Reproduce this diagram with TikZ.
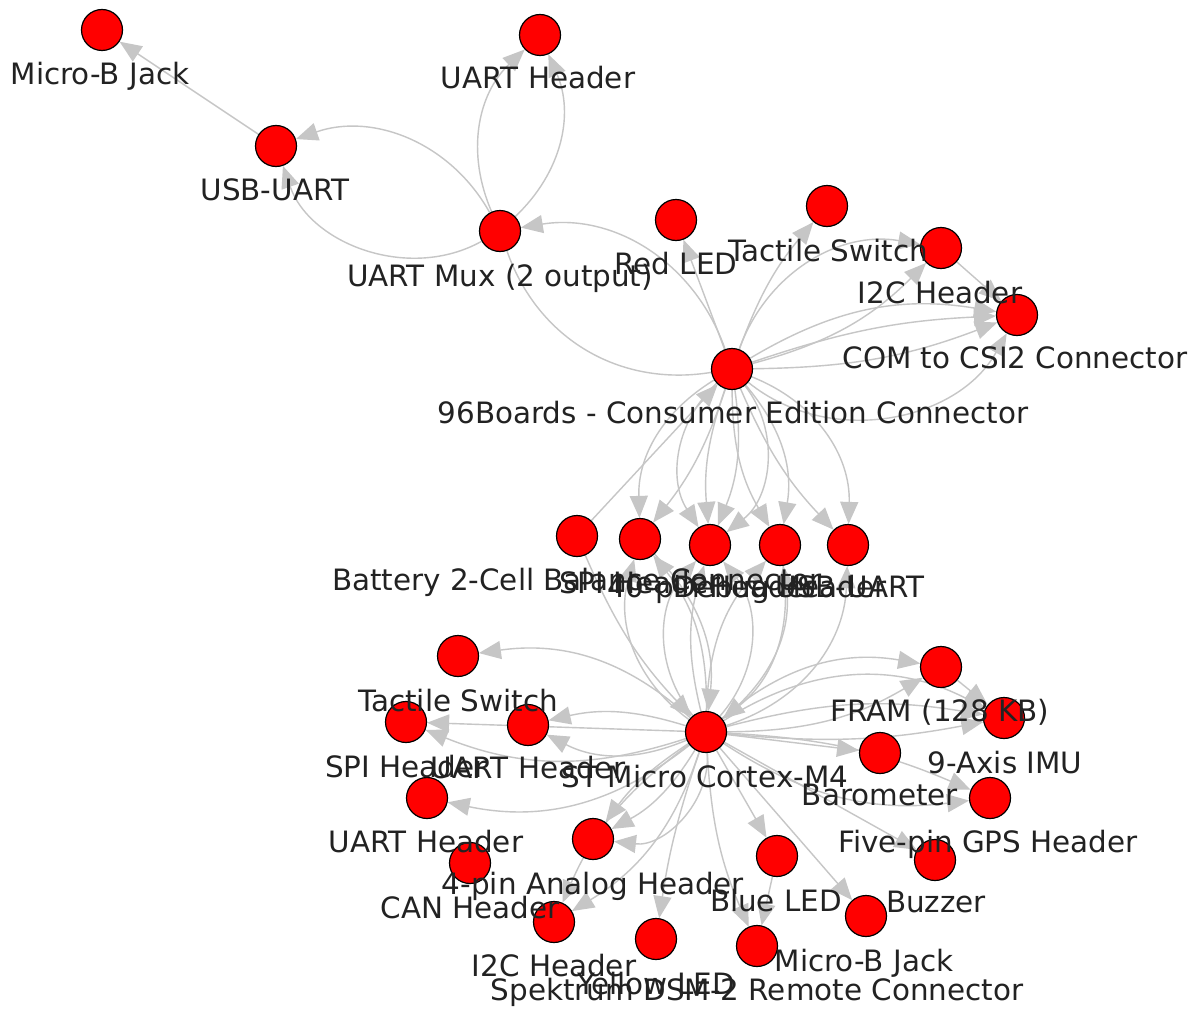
\documentclass[tikz,border=0pt]{standalone}
\usepackage{fontspec}
\setmainfont{DejaVu Sans}
\usetikzlibrary{arrows.meta}
\pgfdeclarelayer{bg}
\pgfsetlayers{bg,main}
\definecolor{eg}{HTML}{C6C6C6}
\definecolor{txt}{HTML}{222222}
\begin{document}
\begin{tikzpicture}[x=0.5pt,y=-0.5pt,
  vtx/.style={circle,fill=red,draw=black,line width=0.6pt,minimum size=20.5pt,inner sep=0pt},
  lbl/.style={anchor=base,inner sep=0pt,text=txt,font=\fontsize{14.7pt}{17pt}\selectfont},
  e/.style={draw=eg,line width=0.7pt,-{Triangle[length=11pt,width=9pt]}},
  ep/.style={draw=eg,line width=0.7pt}]
\useasboundingbox (0,0) rectangle (1197,1011);
% vertices
\node[vtx] (A) at (102,30) {};
\node[vtx] (B) at (540,35) {};
\node[vtx] (C) at (276,146) {};
\node[vtx] (D) at (500,231) {};
\node[vtx] (E) at (676,220) {};
\node[vtx] (F) at (827,206) {};
\node[vtx] (G) at (941,248) {};
\node[vtx] (H) at (1017,315) {};
\node[vtx] (I) at (732,369) {};
\node[vtx] (J) at (577,536) {};
\node[vtx] (K) at (640,539) {};
\node[vtx] (L) at (710,545) {};
\node[vtx] (M) at (780,545) {};
\node[vtx] (N) at (848,545) {};
\node[vtx] (O) at (706,732) {};
\node[vtx] (P) at (458,656) {};
\node[vtx] (Q) at (406,722) {};
\node[vtx] (R) at (528,725) {};
\node[vtx] (S) at (427,798) {};
\node[vtx] (T) at (470,863) {};
\node[vtx] (U) at (593,839) {};
\node[vtx] (V) at (554,922) {};
\node[vtx] (W) at (656,939) {};
\node[vtx] (X) at (757,946) {};
\node[vtx] (Y) at (777,856) {};
\node[vtx] (Z) at (866,916) {};
\node[vtx] (AA) at (935,860) {};
\node[vtx] (AB) at (990,798) {};
\node[vtx] (AC) at (941,667) {};
\node[vtx] (AD) at (1004,718) {};
\node[vtx] (AE) at (880,753) {};
% labels
\node[lbl] (tA) at (100,84) {Micro-B Jack};
\node[lbl] (tB) at (538,89) {UART Header};
\node[lbl] (tC) at (275,200) {USB-UART};
\node[lbl] (tD) at (500,286) {UART Mux (2 output)};
\node[lbl] (tE) at (676,274) {Red LED};
\node[lbl] (tF) at (828,261) {Tactile Switch};
\node[lbl] (tG) at (940,303) {I2C Header};
\node[lbl] (tH) at (1015,368) {COM to CSI2 Connector};
\node[lbl] (tI) at (733,423) {96Boards - Consumer Edition Connector};
\node[lbl] (tJ) at (577,590) {Battery 2-Cell Balance Connector};
\node[lbl] (tK) at (640,593) {SPI Header};
\node[lbl] (tL) at (712,597) {40-pin Header};
\node[lbl] (tM) at (780,597) {Debug Header};
\node[lbl] (tN) at (850,597) {USB-UART};
\node[lbl] (tO) at (705,787) {ST Micro Cortex-M4};
\node[lbl] (tP) at (458,711) {Tactile Switch};
\node[lbl] (tQ) at (406,777) {SPI Header};
\node[lbl] (tR) at (528,778) {UART Header};
\node[lbl] (tS) at (426,852) {UART Header};
\node[lbl] (tT) at (470,918) {CAN Header};
\node[lbl] (tU) at (593,894) {4-pin Analog Header};
\node[lbl] (tV) at (554,976) {I2C Header};
\node[lbl] (tW) at (656,994) {Yellow LED};
\node[lbl] (tX) at (757,1000) {Spektrum DSM-2 Remote Connector};
\node[lbl] (tY) at (776,911) {Blue LED};
\node[lbl] (tZ) at (864,971) {Micro-B Jack};
\node[lbl] (tAA) at (936,912) {Buzzer};
\node[lbl] (tAB) at (988,852) {Five-pin GPS Header};
\node[lbl] (tAC) at (940,721) {FRAM (128 KB)};
\node[lbl] (tAD) at (1005,773) {9-Axis IMU};
\node[lbl] (tAE) at (880,805) {Barometer};
\begin{pgfonlayer}{bg}
\fill[white] (0,0) rectangle (1197,1011);
% top cluster
\draw[e] (C) -- (A);
\draw[e] (D) to[bend right=40] (C);
\draw[e] (D) to[bend left=50] (C);
\draw[e] (D) to[bend left=35] (B);
\draw[e] (D) to[bend right=35] (B);
\draw[e] (I) to[bend right=40] (D);
\draw[ep] (D) to[bend right=40] (I);
\draw[e] (I) -- (E);
\draw[e] (I) to[bend left=10] (F);
\draw[e] (I) to[bend left=40] (G);
\draw[e] (I) to[bend right=15] (G);
\draw[e] (G) -- (H);
\draw[e] (I) to[bend left=20] (H);
\draw[e] (I) to[bend left=8] (H);
\draw[e] (I) to[bend right=10] (H);
\draw[e] (I) to[bend right=50] (H);
% 96Boards to middle row
\draw[e] (J) -- (I);
\draw[e] (I) to[bend right=30] (K);
\draw[e] (I) to[bend left=10] (K);
\draw[e] (I) to[bend right=40] (L);
\draw[e] (I) to[bend right=12] (L);
\draw[e] (I) to[bend left=15] (L);
\draw[e] (I) to[bend left=45] (L);
\draw[e] (I) to[bend left=25] (M);
\draw[e] (I) to[bend right=15] (M);
\draw[e] (I) to[bend left=35] (N);
\draw[e] (I) to[bend right=10] (N);
% middle row and Cortex-M4
\draw[e] (O) to[bend left=35] (K);
\draw[e] (O) to[bend right=20] (K);
\draw[e] (O) to[bend left=40] (L);
\draw[e] (O) to[bend right=40] (L);
\draw[e] (O) to[bend left=15] (L);
\draw[e] (O) to[bend right=30] (M);
\draw[e] (O) to[bend left=20] (M);
\draw[e] (O) to[bend right=35] (N);
\draw[e] (K) to[bend left=25] (O);
\draw[e] (M) to[bend left=30] (O);
\draw[e] (J) to[bend right=10] (O);
% Cortex-M4 to bottom cluster
\draw[e] (O) to[bend right=25] (P);
\draw[e] (O) to[bend right=15] (R);
\draw[e] (O) to[bend left=25] (R);
\draw[e] (O) -- (Q);
\draw[e] (O) to[bend left=20] (Q);
\draw[e] (O) to[bend left=25] (S);
\draw[e] (O) to[bend right=10] (U);
\draw[e] (O) to[bend left=15] (U);
\draw[e] (O) to[bend left=50] (U);
\draw[e] (O) to[bend right=15] (V);
\draw[e] (O) to[bend left=20] (V);
\draw[e] (O) to[bend right=5] (W);
\draw[e] (O) to[bend right=10] (X);
\draw[e] (Y) -- (X);
\draw[e] (O) -- (Y);
\draw[e] (O) -- (Z);
\draw[e] (O) -- (AA);
\draw[e] (O) to[bend right=20] (AB);
\draw[e] (O) to[bend left=10] (AB);
\draw[e] (O) -- (AE);
\draw[e] (O) to[bend left=25] (AC);
\draw[e] (O) to[bend right=15] (AC);
\draw[e] (AC) -- (AD);
\draw[e] (O) to[bend left=30] (AD);
\draw[e] (O) to[bend left=12] (AD);
\draw[e] (O) to[bend right=8] (AD);
\end{pgfonlayer}
\end{tikzpicture}
\end{document}
